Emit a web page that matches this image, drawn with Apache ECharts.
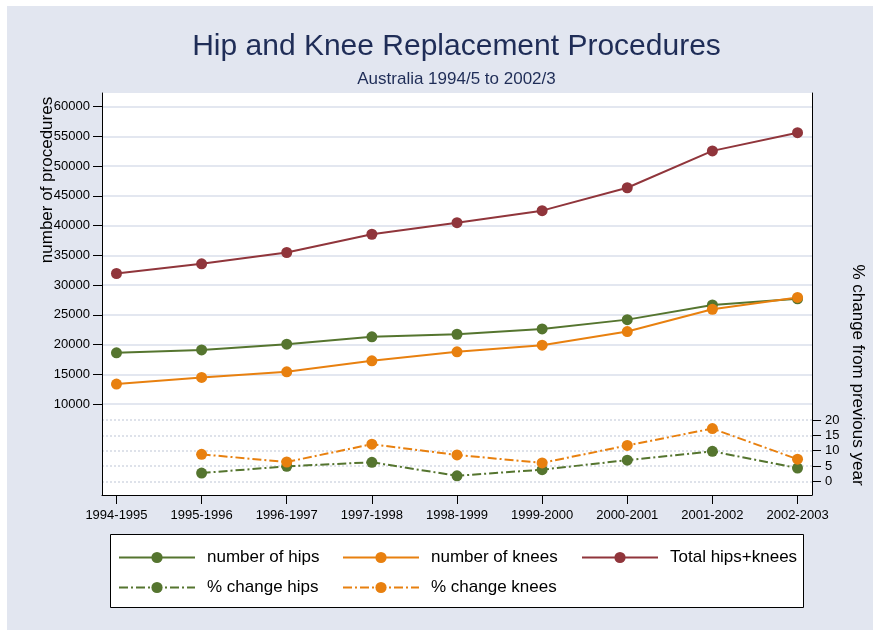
<!DOCTYPE html>
<html>
<head>
<meta charset="utf-8">
<script src="https://cdn.jsdelivr.net/npm/echarts@6/dist/echarts.min.js"></script>
<style>
  html, body { margin: 0; padding: 0; background: #fff; }
  #chart { width: 873px; height: 630px; }
</style>
</head>
<body>
<div id="chart"></div>
<script>
// data
const years = ['1994-1995', '1995-1996', '1996-1997', '1997-1998', '1998-1999',
               '1999-2000', '2000-2001', '2001-2002', '2002-2003'];
const hips = [18600, 19100, 20060, 21290, 21730, 22630, 24190, 26650, 27700];
const knees = [13350, 14470, 15420, 17260, 18770, 19890, 22180, 25920, 27930];
const totals = [31950, 33570, 35480, 38550, 40500, 42520, 46370, 52570, 55630];
const pctHips = [null, 2.7, 4.9, 6.2, 1.8, 3.8, 6.9, 9.8, 4.3];
const pctKnees = [null, 8.8, 6.3, 12.1, 8.6, 6.0, 11.7, 17.2, 7.2];
const countTicks = [10000, 15000, 20000, 25000, 30000, 35000, 40000, 45000, 50000, 55000, 60000];
const pctTicks = [0, 5, 10, 15, 20];
const yearTicks = [0, 1, 2, 3, 4, 5, 6, 7, 8];

const GREEN = '#55752f';
const ORANGE = '#e8800f';
const RED = '#90353b';
const NAVY = '#1f2d57';
const FONT = '"Liberation Sans", Arial, sans-serif';
const dashDot = [9, 3, 2, 3];

// pair each value with its year index, skip missing ones
const toPoints = arr => arr.map((v, i) => [i, v]).filter(p => p[1] != null);

let chart = echarts.init(document.getElementById('chart'));

function lineSeries(name, data, color, yIdx, dashed) {
    return {
        name: name,
        type: 'line',
        xAxisIndex: 0,
        yAxisIndex: yIdx,
        data: toPoints(data),
        symbol: 'circle',
        symbolSize: 11,
        itemStyle: { color: color },
        lineStyle: { color: color, width: 2, type: dashed ? dashDot : 'solid' },
        z: 3
    };
}

let legendBase = {
    orient: 'vertical',
    top: 544,
    itemGap: 13,
    itemWidth: 76,
    itemHeight: 14,
    textStyle: { fontSize: 17, color: '#000', fontFamily: FONT, padding: [0, 0, 0, 7] }
};

let option = {
    animation: false,
    backgroundColor: '#fff',
    textStyle: { fontFamily: FONT },
    graphic: [
        { type: 'rect', z: -10, silent: true, shape: { x: 7, y: 6, width: 873, height: 630 },
          style: { fill: '#e2e6f0' } },
        { type: 'rect', z: -5, silent: true, shape: { x: 110.5, y: 534.5, width: 693, height: 73 },
          style: { fill: '#fff', stroke: '#000', lineWidth: 1 } },
        { type: 'text', x: 456.5, y: 47, silent: true,
          style: { text: 'Hip and Knee Replacement Procedures', font: '30px ' + FONT, fill: NAVY,
                   textAlign: 'center', textVerticalAlign: 'middle' } },
        { type: 'text', x: 456.5, y: 79, silent: true,
          style: { text: 'Australia 1994/5 to 2002/3', font: '17px ' + FONT, fill: NAVY,
                   textAlign: 'center', textVerticalAlign: 'middle' } },
        { type: 'text', x: 47, y: 180, rotation: Math.PI / 2, silent: true,
          style: { text: 'number of procedures', font: '17px ' + FONT, fill: '#000',
                   textAlign: 'center', textVerticalAlign: 'middle' } },
        { type: 'text', x: 858, y: 375, rotation: -Math.PI / 2, silent: true,
          style: { text: '% change from previous year', font: '17px ' + FONT, fill: '#000',
                   textAlign: 'center', textVerticalAlign: 'middle' } }
    ],
    grid: {
        left: 102, right: 61, top: 93, bottom: 135,
        show: true, backgroundColor: '#fff', borderWidth: 0
    },
    legend: [
        Object.assign({}, legendBase, { left: 113, data: ['number of hips', '% change hips'] }),
        Object.assign({}, legendBase, { left: 337, data: ['number of knees', '% change knees'] }),
        Object.assign({}, legendBase, { left: 576, data: ['Total hips+knees'] })
    ],
    xAxis: {
        type: 'value',
        min: -0.17,
        max: 8.17,
        axisLine: { show: true, onZero: false, lineStyle: { color: '#000', width: 1 } },
        axisTick: { show: true, length: 9, customValues: yearTicks, lineStyle: { color: '#000' } },
        axisLabel: {
            customValues: yearTicks,
            formatter: v => years[v],
            fontSize: 13, color: '#000', margin: 14
        },
        splitLine: { show: false }
    },
    yAxis: [
        {
            type: 'value',
            position: 'left',
            min: -5304,
            max: 62304,
            axisLine: { show: true, onZero: false, lineStyle: { color: '#000', width: 1 } },
            axisTick: { show: true, length: 9, customValues: countTicks, lineStyle: { color: '#000' } },
            axisLabel: { customValues: countTicks, formatter: v => String(v),
                         fontSize: 13, color: '#000', margin: 12 },
            splitLine: { show: true, lineStyle: { color: '#e3e7f0', width: 2 } }
        },
        {
            type: 'value',
            position: 'right',
            min: -4.47,
            max: 126.7,
            axisLine: { show: true, onZero: false, lineStyle: { color: '#000', width: 1 } },
            axisTick: { show: true, length: 9, customValues: pctTicks, lineStyle: { color: '#000' } },
            axisLabel: { customValues: pctTicks, formatter: v => String(v),
                         fontSize: 13, color: '#000', margin: 13 },
            splitLine: { show: true, lineStyle: { color: '#d3d9e4', width: 1.5, type: [2, 2] } }
        }
    ],
    series: [
        lineSeries('number of hips', hips, GREEN, 0, false),
        lineSeries('number of knees', knees, ORANGE, 0, false),
        lineSeries('Total hips+knees', totals, RED, 0, false),
        lineSeries('% change hips', pctHips, GREEN, 1, true),
        lineSeries('% change knees', pctKnees, ORANGE, 1, true)
    ]
};

chart.setOption(option);
</script>
</body>
</html>
